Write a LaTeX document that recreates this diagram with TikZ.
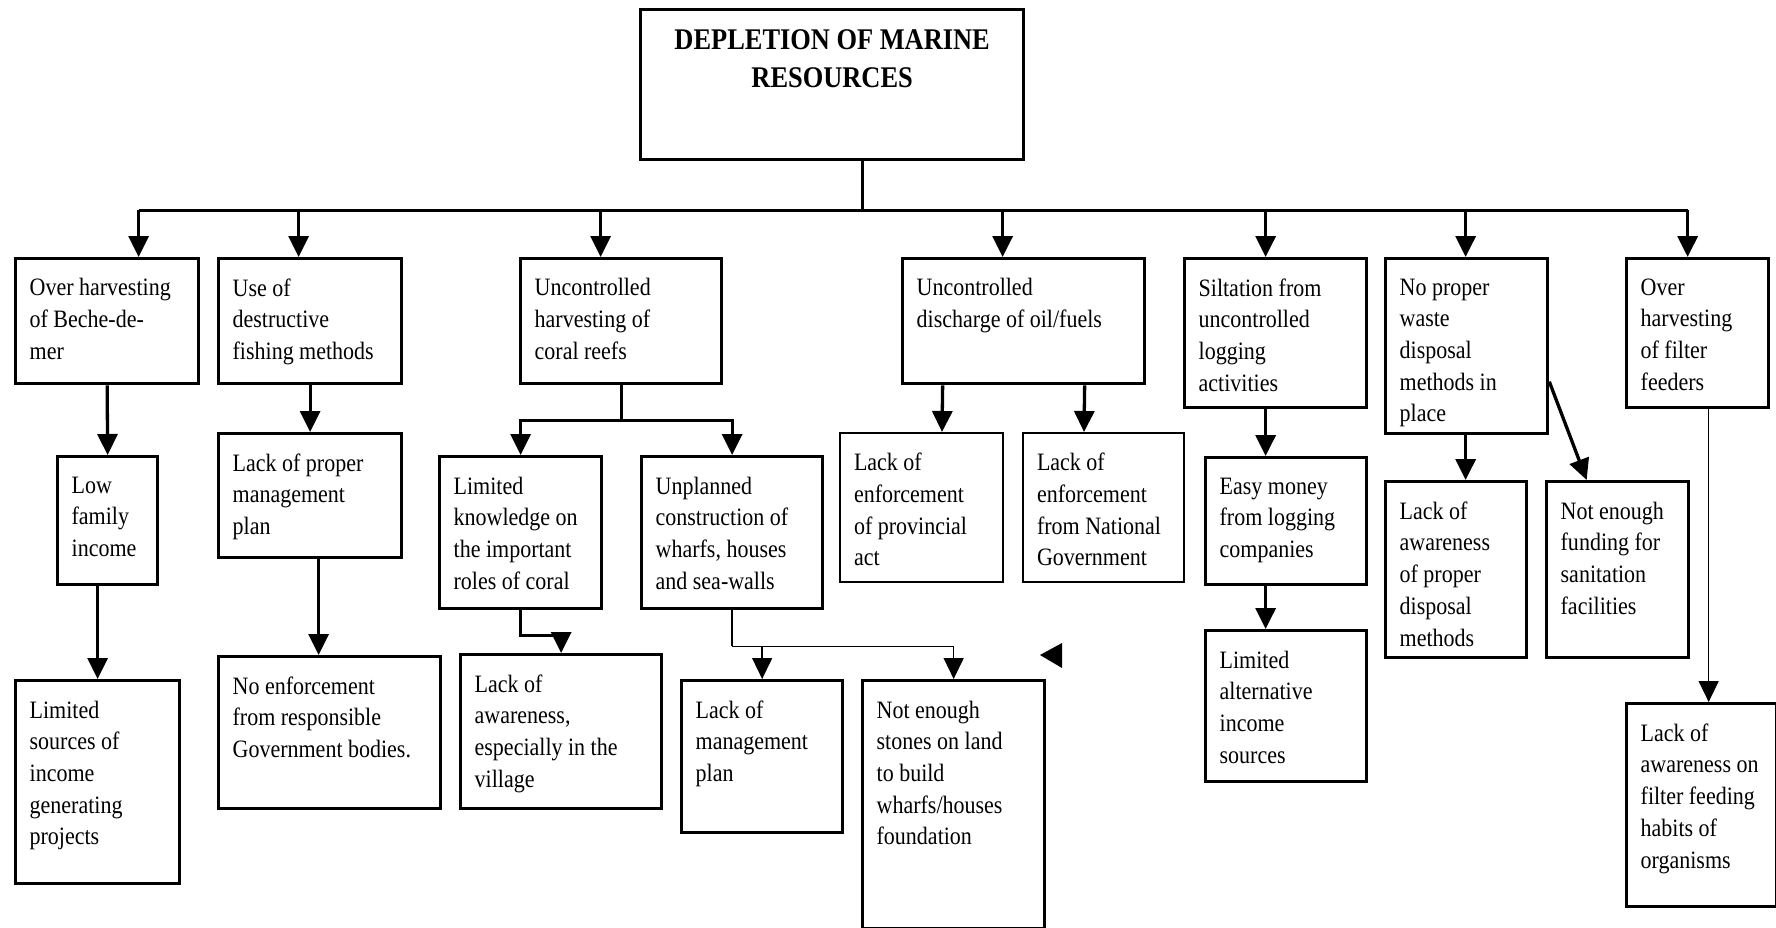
\documentclass[tikz,border=0pt]{standalone}
\usepackage{fontspec}
\setmainfont{Liberation Serif}[FakeStretch=0.88]
\usetikzlibrary{arrows.meta}

% fixed size text block, text at the top
\newcommand{\cell}[3]{\parbox[c][#2pt][t]{#1pt}{\raggedright #3}}

\begin{document}
\begin{tikzpicture}[x=1pt, y=-1pt,
	cause/.style={draw, line width=3.3pt, anchor=north west, inner xsep=14pt, inner ysep=20pt, font=\fontsize{25}{31.7}\selectfont},
	faint/.style={line width=2pt},
	headbox/.style={draw, line width=3.3pt, anchor=north west, inner xsep=14pt, inner ysep=20pt, font=\bfseries\fontsize{30}{38}\selectfont},
	wire/.style={line width=3.3pt},
	link/.style={line width=3.3pt, -{Triangle[length=21pt, width=20pt]}},
	thinlink/.style={line width=1.4pt, -{Triangle[length=21pt, width=20pt]}}]

		\useasboundingbox (0,0) rectangle (1776,928);

		% Draw the main problem
		\node[headbox] (top) at (639,8) {\parbox[c][110pt][t]{355pt}{\centering DEPLETION OF MARINE\\RESOURCES}};

		% Draw the direct causes
		\node[cause] (a1) at (14,257) {\cell{155}{85}{Over harvesting\\of Beche-de-\\mer}};
		\node[cause] (a2) at (217,257) {\cell{155}{85}{Use of\\destructive\\fishing methods}};
		\node[cause] (a3) at (519,257) {\cell{173}{85}{Uncontrolled\\harvesting of\\coral reefs}};
		\node[cause] (a4) at (901,257) {\cell{214}{85}{Uncontrolled\\discharge of oil/fuels}};
		\node[cause] (a5) at (1183,257) {\cell{154}{109}{Siltation from\\uncontrolled\\logging\\activities}};
		\node[cause] (a6) at (1384,257) {\cell{134}{135}{No proper\\waste\\disposal\\methods in\\place}};
		\node[cause] (a7) at (1625,257) {\cell{114}{109}{Over\\harvesting\\of filter\\feeders}};

		% Draw the second row
		\node[cause] (b1) at (56,455) {\cell{72}{88}{Low\\family\\income}};
		\node[cause] (b2) at (217,432) {\cell{155}{84}{Lack of proper\\management\\plan}};
		\node[cause] (b3) at (438,455) {\cell{134}{112}{Limited\\knowledge on\\the important\\roles of coral}};
		\node[cause] (b4) at (640,455) {\cell{153}{112}{Unplanned\\construction of\\wharfs, houses\\and sea-walls}};
		\node[cause, faint] (d1) at (839,432) {\cell{135}{109}{Lack of\\enforcement\\of provincial\\act}};
		\node[cause, faint] (d2) at (1022,432) {\cell{133}{109}{Lack of\\enforcement\\from National\\Government}};
		\node[cause] (e1) at (1204,456) {\cell{133}{87}{Easy money\\from logging\\companies}};
		\node[cause] (f1) at (1384,480) {\cell{113}{136}{Lack of\\awareness\\of proper\\disposal\\methods}};
		\node[cause] (f2) at (1545,480) {\cell{114}{136}{Not enough\\funding for\\sanitation\\facilities}};

		% Draw the root causes
		\node[cause] (c1) at (14,679) {\cell{136}{163}{Limited\\sources of\\income\\generating\\projects}};
		\node[cause] (c2) at (217,655) {\cell{194}{112}{No enforcement\\from responsible\\Government bodies.}};
		\node[cause] (c3) at (459,653) {\cell{173}{114}{Lack of\\awareness,\\especially in the\\village}};
		\node[cause] (c4) at (680,679) {\cell{133}{112}{Lack of\\management\\plan}};
		\node[cause] (c5) at (861,679) {\cell{154}{208}{Not enough\\stones on land\\to build\\wharfs/houses\\foundation}};
		\node[cause] (e2) at (1204,629) {\cell{133}{111}{Limited\\alternative\\income\\sources}};
		\node[cause] (g1) at (1625,702) {\cell{122}{163}{Lack of\\awareness on\\filter feeding\\habits of\\organisms}};

		% Draw the bus under the main problem
		\draw[wire] ([xshift=30.5pt]top.south) -- ++(0,49) coordinate (hub);
		\foreach \n/\dx in {a1/31.5, a2/-11.5, a3/-20.5, a4/-21, a5/-10, a6/-1, a7/-10} {
			\coordinate (\n in) at ([xshift=\dx pt]\n.north);
			\draw[link] (\n in |- hub) -- (\n in);
		}
		\coordinate (busL) at ([xshift=31.5pt]a1.north);
		\coordinate (busR) at ([xshift=-10pt]a7.north);
		\draw[wire] (busL |- hub) -- (busR |- hub);

		% Draw the links below the causes
		\draw[link] (a1.south) -- (b1.north);
		\draw[link] ([xshift=-10pt]b1.south) -- (c1.north);
		\draw[link] (a2.south) -- (b2.north);
		\draw[link] ([xshift=8.5pt]b2.south) -- ([xshift=-11pt]c2.north);

		\draw[wire] (a3.south) -- ++(0,35) coordinate (fork3);
		\draw[link] (fork3) -| (b3.north);
		\draw[link] (fork3) -| (b4.north);
		\draw[link] (b3.south) -- ++(0,25) -| (c3.north);

		\draw[line width=1.4pt] (b4.south) -- ++(0,36) coordinate (fork4);
		\draw[thinlink] (fork4) -| (c4.north);
		\draw[thinlink] (fork4) -| (c5.north);

		% Draw the loose arrow head
		\fill (1040,655) -- (1062,643) -- (1062,668) -- cycle;

		\draw[link] ([xshift=-81pt]a4.south) -- ([xshift=20.5pt]d1.north);
		\draw[link] ([xshift=61pt]a4.south) -- ([xshift=-19.5pt]d2.north);

		\draw[link] ([xshift=-10pt]a5.south) -- ([xshift=-20.5pt]e1.north);
		\draw[link] ([xshift=-20.5pt]e1.south) -- ([xshift=-20.5pt]e2.north);

		\draw[link] ([xshift=-1pt]a6.south) -- ([xshift=9.5pt]f1.north);
		\draw[link] ([yshift=-35.5pt]a6.east) -- ([xshift=-31pt]f2.north);

		\draw[thinlink] ([xshift=11pt]a7.south) -- ([xshift=7pt]g1.north);

	\end{tikzpicture}
\end{document}
